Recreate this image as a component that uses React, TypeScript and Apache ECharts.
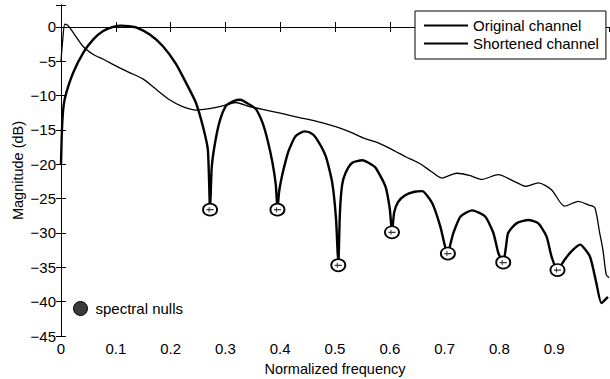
import React, { useEffect, useRef } from 'react';
import * as echarts from 'echarts';

// Original channel magnitude response (dB) vs normalized frequency
const originalFreq = [
  0, 0.003, 0.007, 0.013, 0.022, 0.04, 0.059, 0.077, 0.101, 0.124, 0.15, 0.174,
  0.198, 0.222, 0.247, 0.271, 0.295, 0.319, 0.344, 0.356, 0.398, 0.429, 0.465,
  0.501, 0.525, 0.55, 0.58, 0.61, 0.629, 0.653, 0.675, 0.695, 0.722, 0.745,
  0.768, 0.798, 0.825, 0.848, 0.871, 0.895, 0.919, 0.944, 0.962, 0.974, 0.983,
  0.989, 0.995, 1.0,
];
const originalMag = [
  -5.0, -2.0, 0.4, 0.2, -0.8, -2.8, -4.0, -4.7, -5.7, -6.6, -7.6, -9.1,
  -10.6, -11.6, -12.1, -11.9, -11.5, -11.0, -11.6, -11.8, -12.5, -13.1, -13.7,
  -14.5, -15.2, -16.1, -16.9, -18.1, -18.9, -19.8, -21.0, -22.0, -21.3, -21.6,
  -22.2, -21.5, -22.4, -23.2, -22.7, -23.7, -26.1, -25.4, -25.9, -26.3, -30.0,
  -32.5, -36.1, -36.5,
];

// Shortened channel magnitude response (dB)
const shortenedFreq = [
  0, 0.002, 0.005, 0.01, 0.022, 0.041, 0.059, 0.077, 0.095, 0.11, 0.125, 0.138,
  0.162, 0.186, 0.21, 0.228, 0.246, 0.259, 0.268, 0.272, 0.275, 0.28, 0.289,
  0.301, 0.315, 0.327, 0.344, 0.356, 0.368, 0.377, 0.386, 0.392, 0.395, 0.398,
  0.403, 0.41, 0.416, 0.428, 0.444, 0.455, 0.465, 0.483, 0.495, 0.502, 0.506,
  0.509, 0.513, 0.519, 0.531, 0.55, 0.562, 0.574, 0.592, 0.6, 0.604, 0.608,
  0.615, 0.628, 0.645, 0.659, 0.677, 0.692, 0.701, 0.706, 0.711, 0.716, 0.729,
  0.75, 0.774, 0.789, 0.798, 0.807, 0.812, 0.816, 0.831, 0.853, 0.871, 0.886,
  0.895, 0.906, 0.919, 0.931, 0.947, 0.965, 0.977, 0.986, 0.998,
];
const shortenedMag = [
  -20.0, -14.5, -11.3, -9.5, -6.7, -3.7, -1.8, -0.6, 0.0, 0.2, 0.1, -0.1,
  -1.1, -2.8, -5.4, -8.1, -11.0, -14.5, -17.9, -26.6, -20.5, -17.4, -13.9,
  -11.5, -10.8, -10.6, -11.3, -12.0, -14.0, -16.5, -19.8, -23.0, -26.6, -24.0,
  -21.8, -19.5, -17.9, -15.9, -15.2, -15.4, -16.1, -18.8, -22.7, -28.1, -34.7,
  -27.0, -23.0, -21.3, -19.8, -19.4, -19.8, -20.5, -23.2, -26.5, -29.9, -27.0,
  -25.5, -24.5, -24.0, -23.9, -25.6, -29.0, -32.0, -33.0, -31.5, -30.0, -27.6,
  -26.7, -27.6, -30.0, -32.9, -34.3, -32.0, -30.0, -28.6, -28.1, -28.6, -30.5,
  -33.4, -35.4, -33.9, -32.7, -31.7, -33.4, -37.3, -40.2, -39.3,
];

// Spectral nulls of the shortened channel
const nullFreq = [0.272, 0.395, 0.506, 0.604, 0.706, 0.807, 0.906];
const nullMag = [-26.6, -26.6, -34.7, -29.9, -33.0, -34.3, -35.4];

const FONT = '"Liberation Sans", Arial, Helvetica, sans-serif';

const zip = (xs: number[], ys: number[]) => xs.map((x, i) => [x, ys[i]]);

const minus = (s: string) => s.replace('-', '\u2212');

export default function App() {
  const ref = useRef<HTMLDivElement>(null);

  useEffect(() => {
    if (!ref.current) return;
    const chart = echarts.init(ref.current, undefined, { renderer: 'svg' });

    const axisLine = { show: true, lineStyle: { color: '#000', width: 1 } };
    const tick = { show: true, inside: true, length: 5, lineStyle: { color: '#000', width: 1 } };
    const labelStyle = { color: '#000', fontSize: 15, fontFamily: FONT };
    const nameStyle = { color: '#000', fontSize: 14.5, fontFamily: FONT };

    chart.setOption({
      animation: false,
      backgroundColor: '#fff',
      grid: { left: 61, right: 1, top: 5, bottom: 43, containLabel: false, outerBoundsMode: 'none' },
      legend: [
        {
          data: ['Original channel', 'Shortened channel'],
          orient: 'vertical',
          left: 415,
          top: 11,
          itemWidth: 44,
          itemHeight: 15,
          itemGap: 3,
          padding: [7, 7, 8, 8],
          borderColor: '#000',
          borderWidth: 1,
          borderRadius: 0,
          backgroundColor: '#fff',
          selectedMode: false,
          itemStyle: { color: 'rgba(0,0,0,0)', borderColor: 'rgba(0,0,0,0)', borderWidth: 0 },
          textStyle: { color: '#000', fontSize: 15, fontFamily: FONT },
        },
        {
          data: [{ name: 'spectral nulls', icon: 'circle', itemStyle: { color: '#3a3a3a', borderColor: '#000', borderWidth: 1 } }],
          left: 73,
          top: 301,
          itemWidth: 20,
          itemHeight: 14,
          padding: 0,
          selectedMode: false,
          textStyle: { color: '#000', fontSize: 15, fontFamily: FONT },
        },
      ],
      xAxis: [
        {
          type: 'value',
          position: 'bottom',
          min: 0,
          max: 1,
          interval: 0.1,
          axisLine,
          axisTick: tick,
          splitLine: { show: false },
          axisLabel: {
            ...labelStyle,
            margin: 5,
            showMaxLabel: false,
            formatter: (v: number) => (v === 0 ? '0' : v.toFixed(1)),
          },
          name: 'Normalized frequency',
          nameLocation: 'middle',
          nameGap: 25,
          nameMoveOverlap: false,
          nameTextStyle: { ...nameStyle },
        },
        {
          type: 'value',
          position: 'top',
          min: 0,
          max: 1,
          interval: 0.1,
          axisLine,
          axisTick: tick,
          splitLine: { show: false },
          axisLabel: { show: false },
        },
      ],
      yAxis: [
        {
          type: 'value',
          position: 'left',
          min: -45,
          max: 3.2,
          interval: 5,
          axisLine,
          axisTick: tick,
          splitLine: { show: false },
          axisLabel: {
            ...labelStyle,
            margin: 5,
            formatter: (v: number) => (Math.abs(v % 5) < 1e-9 ? minus(String(v)) : ''),
          },
          name: 'Magnitude (dB)',
          nameLocation: 'middle',
          nameGap: 36,
          nameMoveOverlap: false,
          nameTextStyle: { ...nameStyle },
        },
        {
          type: 'value',
          position: 'right',
          min: -45,
          max: 3.2,
          interval: 5,
          axisLine,
          axisTick: tick,
          splitLine: { show: false },
          axisLabel: { show: false },
        },
      ],
      series: [
        {
          name: 'Original channel',
          type: 'line',
          xAxisIndex: 0,
          yAxisIndex: 0,
          data: zip(originalFreq, originalMag),
          symbol: 'none',
          smooth: 0.25,
          lineStyle: { color: '#000', width: 1.3 },
          itemStyle: { color: '#000' },
          z: 2,
        },
        {
          name: 'Shortened channel',
          type: 'line',
          xAxisIndex: 0,
          yAxisIndex: 0,
          data: zip(shortenedFreq, shortenedMag),
          symbol: 'none',
          smooth: 0.2,
          lineStyle: { color: '#000', width: 2.4 },
          itemStyle: { color: '#000' },
          z: 3,
        },
        {
          name: 'spectral nulls',
          type: 'scatter',
          xAxisIndex: 0,
          yAxisIndex: 0,
          data: zip(nullFreq, nullMag),
          symbol: 'circle',
          symbolSize: [14, 12],
          itemStyle: { color: '#fff', borderColor: '#000', borderWidth: 1.8, opacity: 1 },
          z: 5,
        },
        {
          name: 'null marks',
          type: 'scatter',
          xAxisIndex: 0,
          yAxisIndex: 0,
          data: zip(nullFreq, nullMag),
          symbol: 'path://M0,3 L7,3 L7,5 L0,5 Z M2,0 L3,0 L3,8 L2,8 Z',
          symbolSize: [7, 5],
          itemStyle: { color: '#000' },
          silent: true,
          z: 6,
        },
      ],
    });

    return () => chart.dispose();
  }, []);

  return (
    <div
      ref={ref}
      style={{ position: 'absolute', left: 0, top: 0, width: 610, height: 379 }}
    />
  );
}
